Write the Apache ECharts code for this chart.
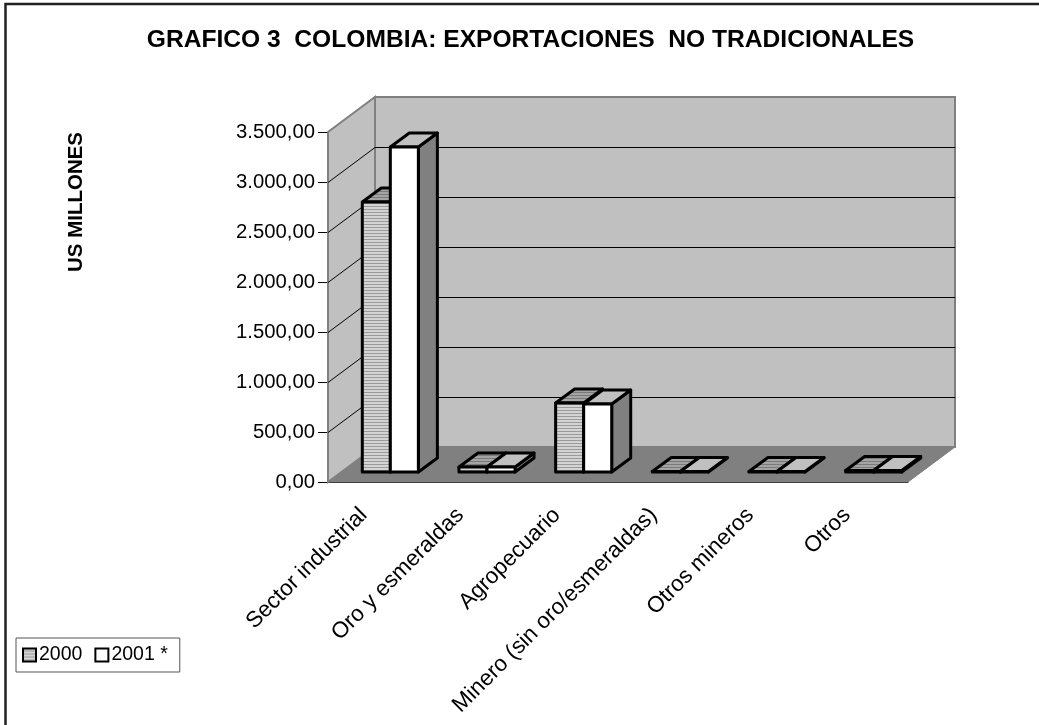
<!DOCTYPE html>
<html><head><meta charset="utf-8">
<style>html,body{margin:0;padding:0;background:#fff}#c{width:1039px;height:725px}</style>
<script src="https://cdn.jsdelivr.net/npm/echarts@6/dist/echarts.min.js"></script>
</head><body><div id="c"></div>
<script>
const categories = ['Sector industrial','Oro y esmeraldas','Agropecuario','Minero (sin oro/esmeraldas)','Otros mineros','Otros'];
const values2000 = [2700, 50, 690, 5, 5, 15];
const values2001 = [3250, 50, 680, 5, 5, 15];
const yTicks = [500, 1000, 1500, 2000, 2500, 3000];
const titleText = 'GRAFICO 3  COLOMBIA: EXPORTACIONES  NO TRADICIONALES';
const yName = 'US MILLONES';

const WALL = [47, -35], FRONT = [14, -10], BAR = [19, -14];

function stripes(bg, line) {
  const c = document.createElement('canvas');
  c.width = 4; c.height = 3;
  const g = c.getContext('2d');
  g.fillStyle = bg; g.fillRect(0, 0, 4, 3);
  g.fillStyle = line; g.fillRect(0, 2, 4, 1);
  return { image: c, repeat: 'repeat' };
}
const frontStripe = stripes('#d4d4d4', '#9a9a9a');
const topStripe = stripes('#a4a4a4', '#7a7a7a');

function renderWalls(params, api) {
  const r = params.coordSys;
  const v = api.value(1);
  const y = api.coord([0, v])[1] + 0.5;
  const x0 = r.x, x1 = r.x + r.width, b = r.y + r.height, t = r.y;
  const dx = WALL[0], dy = WALL[1];
  const children = [];
  const edge = { stroke: '#808080', lineWidth: 2 };
  if (params.dataIndex === 0) {
    children.push(
      { type: 'polygon', shape: { points: [[x0,b],[x0+dx,b+dy],[x0+dx,t+dy],[x0,t]] }, style: { fill: '#c0c0c0', ...edge } },
      { type: 'polygon', shape: { points: [[x0+dx,t+dy],[x1+dx,t+dy],[x1+dx,b+dy],[x0+dx,b+dy]] }, style: { fill: '#c0c0c0', ...edge } },
      { type: 'polygon', shape: { points: [[x0,b],[x0+dx,b+dy],[x1+dx,b+dy],[x1,b]] }, style: { fill: '#808080', stroke: '#808080', lineWidth: 1 } }
    );
  }
  children.push(
    { type: 'polyline', shape: { points: [[x0,y],[x0+dx,y+dy],[x1+dx,y+dy]] }, style: { fill: null, stroke: '#000', lineWidth: 1 } }
  );
  return { type: 'group', children };
}

function makeBar(seriesPos, frontFill, topFill) {
  return function (params, api) {
    const idx = api.value(0);
    const c0 = api.coord([idx, 0]);
    const c1 = api.coord([idx, api.value(1)]);
    const w = api.size([1, 0])[0] * 0.29;
    const xl = c0[0] + FRONT[0] + (seriesPos === 0 ? -w : 0);
    const xr = xl + w;
    const yb = c0[1] + FRONT[1];
    const yt = c1[1] + FRONT[1];
    const dx = BAR[0], dy = BAR[1];
    const s = { stroke: '#000', lineWidth: 3, lineJoin: 'round' };
    return { type: 'group', children: [
      { type: 'polygon', shape: { points: [[xr,yb],[xr+dx,yb+dy],[xr+dx,yt+dy],[xr,yt]] }, style: { fill: '#808080', ...s } },
      { type: 'polygon', shape: { points: [[xl,yt],[xl+dx,yt+dy],[xr+dx,yt+dy],[xr,yt]] }, style: { fill: topFill, ...s } },
      { type: 'polygon', shape: { points: [[xl,yb],[xr,yb],[xr,yt],[xl,yt]] }, style: { fill: frontFill, ...s } }
    ] };
  };
}

const font = 'Liberation Sans, Arial, sans-serif';
const chart = echarts.init(document.getElementById('c'), null, { renderer: 'canvas' });
chart.setOption({
  animation: false,
  backgroundColor: '#fff',
  title: { text: titleText, left: 525.5, top: 23, textAlign: 'center',
    textStyle: { fontFamily: font, fontSize: 24.6, fontWeight: 'bold', color: '#000' } },
  legend: { left: 16, top: 638, orient: 'horizontal', itemWidth: 13, itemHeight: 13, itemGap: 12,
    backgroundColor: '#fff', borderColor: '#555', borderWidth: 1, borderRadius: 0, padding: [7, 12, 7, 6],
    textStyle: { fontFamily: font, fontSize: 19.5, color: '#000', padding: [0,0,0,-2] },
    data: [
      { name: '2000', icon: 'rect', itemStyle: { color: frontStripe, borderColor: '#000', borderWidth: 2 } },
      { name: '2001 *', icon: 'rect', itemStyle: { color: '#fff', borderColor: '#000', borderWidth: 2 } }
    ] },
  grid: { left: 328, right: 131, top: 132, bottom: 243 },
  xAxis: { type: 'category', data: categories, boundaryGap: true,
    axisLine: { lineStyle: { color: '#000', width: 1 } },
    axisTick: { alignWithLabel: false, length: 9, lineStyle: { color: '#000' } },
    axisLabel: { interval: 0, rotate: 45, margin: 17, padding: [0, 18, 0, 0], color: '#000', fontFamily: font, fontSize: 22.4 } },
  yAxis: { type: 'value', min: 0, max: 3500, interval: 500,
    axisLine: { show: true, lineStyle: { color: '#000', width: 1 } },
    axisTick: { show: true, length: 10, lineStyle: { color: '#000' } },
    splitLine: { show: false },
    axisLabel: { margin: 13, color: '#000', fontFamily: font, fontSize: 20.3,
      formatter: v => v === 0 ? '0,00' : (v >= 1000 ? Math.floor(v/1000) + '.' + String(v%1000).padStart(3,'0') : v) + ',00' } },
  graphic: [
    { type: 'polyline', z: 100, silent: true, shape: { points: [[5.5,725],[5.5,4],[1039,4]] }, style: { fill: 'none', stroke: '#222', lineWidth: 2.5 } },
    { type: 'text', x: 76.5, y: 202, rotation: Math.PI / 2, silent: true,
      style: { text: yName, fontFamily: font, fontSize: 20.5, fontWeight: 'bold', fill: '#000', align: 'center', verticalAlign: 'middle' } }
  ],
  series: [
    { type: 'custom', name: 'walls', z: 1, silent: true, renderItem: renderWalls, encode: { x: 0, y: 1 },
      data: yTicks.map(v => [0, v]) },
    { type: 'custom', name: '2000', z: 2, renderItem: makeBar(0, frontStripe, topStripe), encode: { x: 0, y: 1 },
      itemStyle: { color: frontStripe }, data: values2000.map((v, i) => [i, v]) },
    { type: 'custom', name: '2001 *', z: 3, renderItem: makeBar(1, '#fff', '#c0c0c0'), encode: { x: 0, y: 1 },
      itemStyle: { color: '#fff' }, data: values2001.map((v, i) => [i, v]) }
  ]
});
</script></body></html>
